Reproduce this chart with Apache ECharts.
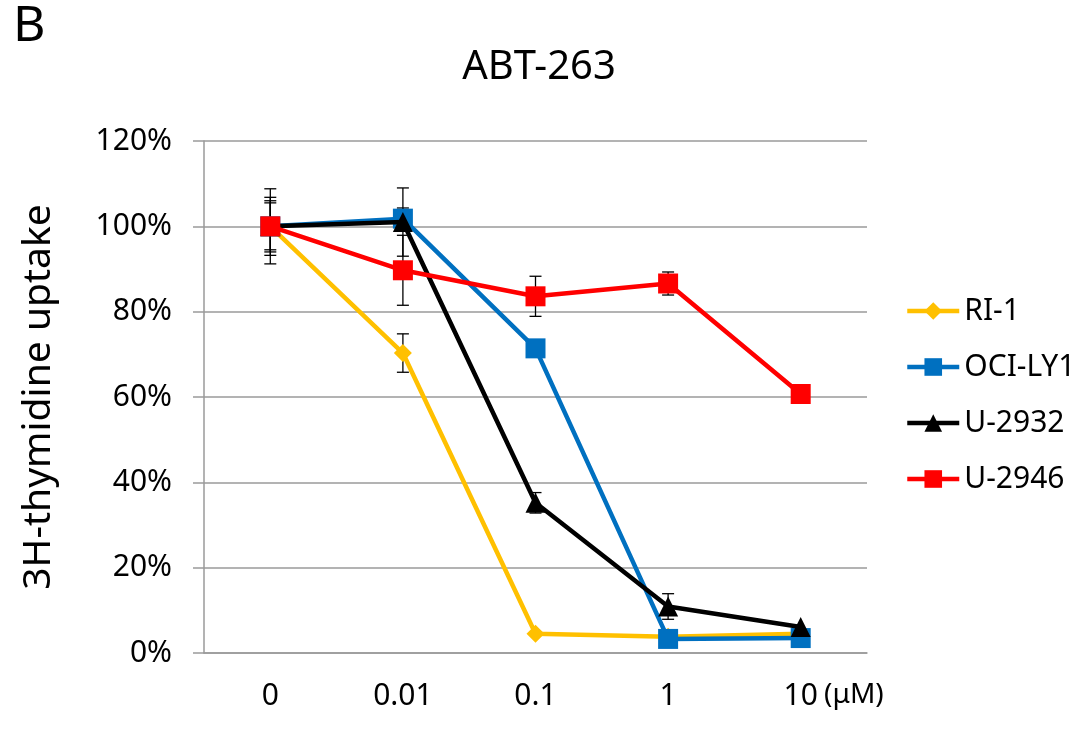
<!DOCTYPE html>
<html>
<head>
<meta charset="utf-8">
<script src="https://cdn.jsdelivr.net/npm/echarts@6/dist/echarts.min.js"></script>
<style>
  html, body { margin: 0; padding: 0; background: #fff; }
  #main { width: 1091px; height: 745px; }
</style>
</head>
<body>
<div id="main"></div>
<script>
const doses = ['0', '0.01', '0.1', '1', '10']
const seriesNames = ['RI-1', 'OCI-LY1', 'U-2932', 'U-2946']
const ri1 = [100, 70.3, 4.5, 3.8, 4.5]
const ociLy1 = [100, 101.8, 71.4, 3.3, 3.5]
const u2932 = [100, 101, 35.2, 10.9, 6.1]
const u2946 = [100, 89.7, 83.6, 86.6, 60.7]
// error bar half-widths (same units as values), 0 = none drawn
const ri1Err = [6, 4.5, 0, 0, 0]
const ociLy1Err = [6.8, 2.5, 0, 0, 0]
const u2932Err = [8.8, 8, 2.4, 3, 0]
const u2946Err = [5.5, 8.2, 4.7, 2.7, 0]
const yTicks = [0, 20, 40, 60, 80, 100, 120]

const colors = ['#FFC000', '#0070C0', '#000000', '#FF0000']
const symbols = ['diamond', 'rect', 'triangle', 'rect']
const symbolSizes = [18, 20, 20, 20]
const values = [ri1, ociLy1, u2932, u2946]
const errs = [ri1Err, ociLy1Err, u2932Err, u2946Err]

const font = '"Noto Sans", "Open Sans", sans-serif'

const chart = echarts.init(document.getElementById('main'))

const errorData = []
errs.forEach((arr, s) => {
  arr.forEach((e, i) => {
    if (e > 0) errorData.push([i, values[s][i] - e, values[s][i] + e])
  })
})

const lineSeries = seriesNames.map((name, s) => ({
  name: name,
  type: 'line',
  data: values[s],
  symbol: symbols[s],
  symbolSize: symbolSizes[s],
  z: 3 + s,
  lineStyle: { color: colors[s], width: 4.5 },
  itemStyle: { color: colors[s] },
  emphasis: { disabled: true }
}))

chart.setOption({
  animation: false,
  title: {
    text: 'ABT-263',
    left: 534,
    top: 43,
    textAlign: 'center',
    textStyle: { fontFamily: font, fontSize: 40, fontWeight: 'normal', color: '#000' }
  },
  graphic: [
    {
      type: 'text',
      left: 13,
      top: 2,
      style: { text: 'B', fontFamily: font, fontSize: 50, fill: '#000' }
    },
    {
      type: 'text',
      left: 824,
      top: 681,
      style: { text: '(\u03bcM)', fontFamily: font, fontSize: 28, fill: '#000' }
    }
  ],
  legend: {
    data: seriesNames,
    orient: 'vertical',
    left: 900,
    top: 291,
    itemWidth: 52,
    itemHeight: 22,
    itemGap: 26,
    lineStyle: { width: 4.5 },
    textStyle: { fontFamily: font, fontSize: 30, color: '#000' }
  },
  grid: { left: 204, right: 224, top: 141, bottom: 92 },
  xAxis: {
    type: 'category',
    data: doses,
    boundaryGap: true,
    axisLine: { lineStyle: { color: '#9a9a9a', width: 1.5 } },
    axisTick: { show: false },
    axisLabel: { fontFamily: font, fontSize: 30, color: '#000', margin: 28 }
  },
  yAxis: {
    type: 'value',
    min: yTicks[0],
    max: yTicks[yTicks.length - 1],
    interval: 20,
    name: '3H-thymidine uptake',
    nameLocation: 'middle',
    nameGap: 146,
    nameTextStyle: { fontFamily: font, fontSize: 39, color: '#000' },
    axisLine: { show: true, lineStyle: { color: '#9a9a9a', width: 1.5 } },
    axisTick: { show: true, length: 11, lineStyle: { color: '#9a9a9a', width: 1.5 } },
    splitLine: { lineStyle: { color: '#9a9a9a', width: 1.5 } },
    axisLabel: {
      fontFamily: font, fontSize: 30, color: '#000', margin: 32,
      formatter: (v) => v + '%'
    }
  },
  series: [
    {
      type: 'custom',
      name: 'err',
      z: 2,
      silent: true,
      data: errorData,
      renderItem: (params, api) => {
        const x = api.value(0)
        const lo = api.coord([x, api.value(1)])
        const hi = api.coord([x, api.value(2)])
        const w = 6
        const st = { stroke: '#000', lineWidth: 1.3 }
        return {
          type: 'group',
          children: [
            { type: 'line', shape: { x1: lo[0], y1: lo[1], x2: hi[0], y2: hi[1] }, style: st },
            { type: 'line', shape: { x1: lo[0] - w, y1: lo[1], x2: lo[0] + w, y2: lo[1] }, style: st },
            { type: 'line', shape: { x1: hi[0] - w, y1: hi[1], x2: hi[0] + w, y2: hi[1] }, style: st }
          ]
        }
      }
    }
  ].concat(lineSeries)
})
</script>
</body>
</html>
